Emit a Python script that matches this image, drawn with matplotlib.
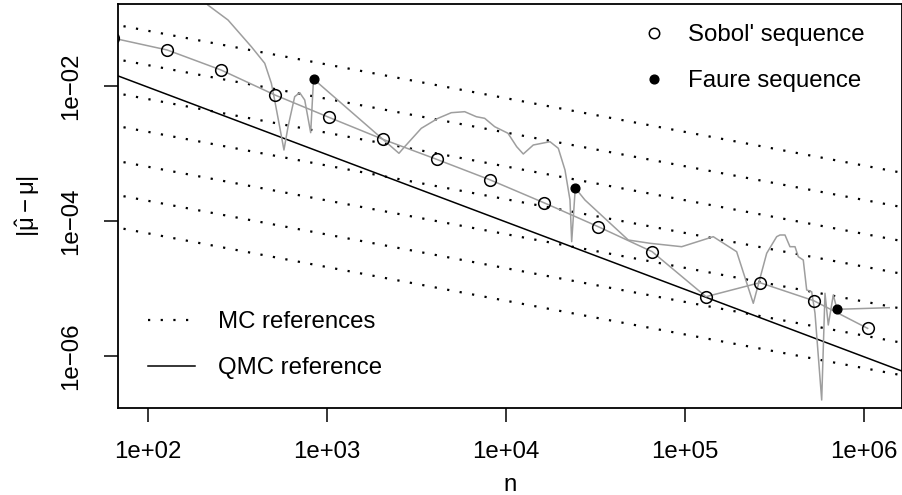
import numpy as np
import matplotlib
matplotlib.use('Agg')
import matplotlib.pyplot as plt
from matplotlib.lines import Line2D

plt.rcParams['font.family'] = ['Liberation Sans', 'DejaVu Sans']
plt.rcParams['mathtext.fontset'] = 'custom'
plt.rcParams['mathtext.rm'] = 'Liberation Sans'
plt.rcParams['mathtext.it'] = 'Liberation Sans'
plt.rcParams['mathtext.bf'] = 'Liberation Sans:bold'

FS = 17.3
GRAY = '#9e9e9e'

# Sobol' estimates at n = 2^6 ... 2^20
sobol_n = [64, 128, 256, 512, 1024, 2048, 4096, 8192, 16384, 32768,
           65536, 131072, 262144, 524288, 1048576]
sobol_err = [0.0518, 0.0346, 0.01746, 0.00743, 0.00347, 0.00164, 8.26e-4,
             4.07e-4, 1.86e-4, 8.26e-5, 3.52e-5, 7.56e-6, 1.22e-5, 6.59e-6,
             2.56e-6]

# Faure estimates (gray curve)
faure_n = [195, 216, 280, 378, 449, 489, 510, 544, 575, 606, 660, 704, 751,
           811, 841, 2524, 2716, 3364, 4170, 4948, 5881, 6826, 7603, 8648,
           10261, 11478, 12495, 14210, 17614, 19600, 21364, 22783, 23287,
           24389, 27620, 48230, 63750, 95850, 143900, 194400, 240800,
           286100, 325300, 339400, 362000, 386000, 411800, 429600, 458000,
           478600, 510400, 532600, 580500, 605600, 631900, 673900, 707281,
           1384000]
faure_err = [0.2506, 0.1607, 0.0963, 0.0387, 0.02195, 0.01108, 0.00626,
             0.002516, 0.001135, 0.002516, 0.00701, 0.00804, 0.00626,
             0.00205, 0.01283, 0.001014, 0.00127, 0.00238, 0.00335, 0.00406,
             0.0042, 0.00354, 0.00335, 0.002516, 0.00201, 0.00127, 0.00099,
             0.001346, 0.001507, 0.001203, 5.73e-4, 2.056e-4, 4.95e-5,
             3.097e-4, 2.056e-4, 5.24e-5, 4.685e-5, 4.17e-5, 5.87e-5,
             3.516e-5, 6.03e-6, 3.33e-5, 5.87e-5, 6.22e-5, 6.22e-5, 4.17e-5,
             4.17e-5, 2.963e-5, 2.647e-5, 9.5e-6, 8.96e-6, 4.29e-6, 2.217e-7,
             8.49e-6, 2.873e-6, 8.01e-6, 4.91e-6, 5.19e-6]

# Faure points at n = 29^2, 29^3, 29^4
faure_pts_n = [841, 24389, 707281]
faure_pts_err = [0.01283, 3.097e-4, 4.91e-6]

# reference lines: MC  c / sqrt(n),  QMC  c / n
mc_const = [0.666, 0.206, 0.0646, 0.0211, 0.0064, 0.002, 0.000658]
qmc_const = 0.97
ref_n = np.array([10.0, 1e7])

xticks = [1e2, 1e3, 1e4, 1e5, 1e6]
xlabels = ['1e+02', '1e+03', '1e+04', '1e+05', '1e+06']
yticks = [1e-2, 1e-4, 1e-6]
ylabels = ['1e\u221202', '1e\u221204', '1e\u221206']

fig = plt.figure(figsize=(9.03, 4.95), dpi=100)
ax = fig.add_axes([118 / 903, (495 - 408) / 495, (902 - 118) / 903, (408 - 4) / 495])
ax.set_xscale('log')
ax.set_yscale('log')

for c in mc_const:
    ax.plot(ref_n, c / np.sqrt(ref_n), color='black', lw=1.6,
            ls=(0, (1, 4.7)))
ax.plot(ref_n, qmc_const / ref_n, color='black', lw=1.1)

ax.plot(faure_n, faure_err, color=GRAY, lw=1.1)
ax.plot(sobol_n, sobol_err, color=GRAY, lw=1.1)
ax.plot(sobol_n, sobol_err, ls='none', marker='o', ms=8.4, mfc='none',
        mec='black', mew=1.1)
ax.plot(faure_pts_n, faure_pts_err, ls='none', marker='o', ms=6.3,
        mfc='black', mec='black')

ax.set_xlim(68.0, 1.631e6)
ax.set_ylim(1.686e-7, 0.1664)

ax.xaxis.set_minor_locator(matplotlib.ticker.NullLocator())
ax.yaxis.set_minor_locator(matplotlib.ticker.NullLocator())
ax.set_xticks(xticks)
ax.set_xticklabels(xlabels)
ax.set_yticks(yticks)
ax.set_yticklabels(ylabels, rotation=90, va='center')
ax.tick_params(length=10, width=1.1, pad=14, labelsize=FS)
ax.tick_params(axis='y', pad=16)
for s in ax.spines.values():
    s.set_linewidth(1.3)

ax.set_xlabel('n', fontsize=FS, labelpad=8)
ax.set_ylabel(r'$|\hat{\mu}-\mu|$', fontsize=FS, labelpad=13)

h1 = [Line2D([], [], ls='none', marker='o', ms=7.5, mfc='none', mec='black', mew=1.1),
      Line2D([], [], ls='none', marker='o', ms=6.3, mfc='black', mec='black')]
leg1 = ax.legend(h1, ["Sobol' sequence", "Faure sequence"], loc='upper left',
                 bbox_to_anchor=(641.5 / 903, 1 - 24 / 495),
                 bbox_transform=fig.transFigure, frameon=False, borderpad=0,
                 borderaxespad=0, handlelength=1.0, handletextpad=0.94,
                 labelspacing=1.0, fontsize=FS)
h2 = [Line2D([], [], color='black', lw=1.6, ls=(0, (1, 4.7))),
      Line2D([], [], color='black', lw=1.1)]
leg2 = ax.legend(h2, ['MC references', 'QMC reference'], loc='upper left',
                 bbox_to_anchor=(148 / 903, 1 - 311 / 495),
                 bbox_transform=fig.transFigure, frameon=False, borderpad=0,
                 borderaxespad=0, handlelength=1.95, handletextpad=0.96,
                 labelspacing=1.0, fontsize=FS)
ax.add_artist(leg1)

fig.savefig('out.png', dpi=100)
